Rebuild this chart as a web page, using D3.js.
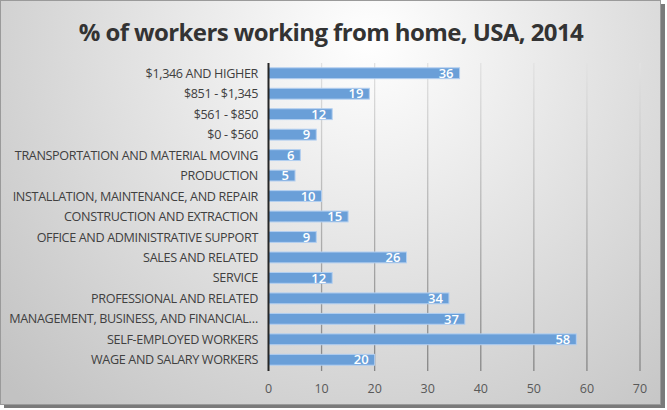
<!DOCTYPE html>
<html lang="en">
<head>
<meta charset="UTF-8">
<title>Workers from home</title>
<script src="https://cdn.jsdelivr.net/npm/d3@7"></script>
<style>
  body { margin: 0; background: #fff; }
  text { font-family: "Open Sans", "Noto Sans", sans-serif; }
</style>
</head>
<body>
<svg></svg>
<script>
    const width = 667, height = 410;

    // categories top to bottom, with values
    const categories = [
        '$1,346 AND HIGHER',
        '$851 - $1,345',
        '$561 - $850',
        '$0 - $560',
        'TRANSPORTATION AND MATERIAL MOVING',
        'PRODUCTION',
        'INSTALLATION, MAINTENANCE, AND REPAIR',
        'CONSTRUCTION AND EXTRACTION',
        'OFFICE AND ADMINISTRATIVE SUPPORT',
        'SALES AND RELATED',
        'SERVICE',
        'PROFESSIONAL AND RELATED',
        'MANAGEMENT, BUSINESS, AND FINANCIAL…',
        'SELF-EMPLOYED WORKERS',
        'WAGE AND SALARY WORKERS'
    ];
    const values = [36, 19, 12, 9, 6, 5, 10, 15, 9, 26, 12, 34, 37, 58, 20];
    const xTicks = [0, 10, 20, 30, 40, 50, 60, 70];
    const title = '% of workers working from home, USA, 2014';

    const svg = d3.select('svg')
        .attr('width', width)
        .attr('height', height);

    const defs = svg.append('defs');

    // chart area background: light centre near the title, grey edges
    const bg = defs.append('radialGradient')
        .attr('id', 'bg')
        .attr('gradientUnits', 'userSpaceOnUse')
        .attr('cx', 370).attr('cy', 40).attr('r', 500);
    bg.append('stop').attr('offset', '0%').attr('stop-color', '#ffffff');
    bg.append('stop').attr('offset', '100%').attr('stop-color', '#c2c2c2');

    const grid = defs.append('linearGradient')
        .attr('id', 'grid')
        .attr('gradientUnits', 'userSpaceOnUse')
        .attr('x1', 0).attr('y1', 63).attr('x2', 0).attr('y2', 371);
    grid.append('stop').attr('offset', '0%').attr('stop-color', '#e2e2e2');
    grid.append('stop').attr('offset', '100%').attr('stop-color', '#858585');

    // drop shadow + frame
    svg.append('rect')
        .attr('x', 4).attr('y', 4)
        .attr('width', 661).attr('height', 404)
        .attr('fill', '#7a7a7a');
    svg.append('rect')
        .attr('x', 0.5).attr('y', 0.5)
        .attr('width', 660).attr('height', 404)
        .attr('fill', 'url(#bg)')
        .attr('stroke', '#9a9a9a');

    const x = d3.scaleLinear()
        .domain([0, 70])
        .range([268.5, 640]);

    const y = d3.scaleBand()
        .domain(categories)
        .range([63, 370])
        .paddingInner(0.47)
        .paddingOuter(0.235);

    // vertical gridlines
    svg.append('g')
        .selectAll('line')
        .data(xTicks.slice(1))
        .join('line')
        .attr('x1', d => x(d)).attr('x2', d => x(d))
        .attr('y1', 63).attr('y2', 371)
        .attr('stroke', 'url(#grid)')
        .attr('stroke-width', 1.3);

    // bars
    svg.append('g')
        .selectAll('rect')
        .data(values)
        .join('rect')
        .attr('x', x(0))
        .attr('y', (d, i) => y(categories[i]))
        .attr('width', d => x(d) - x(0))
        .attr('height', y.bandwidth())
        .attr('fill', '#6a9fd8')
        .attr('stroke', '#b3cff0')
        .attr('stroke-width', 1);

    // value labels inside bar ends
    svg.append('g')
        .selectAll('text')
        .data(values)
        .join('text')
        .attr('x', d => x(d) - 6)
        .attr('y', (d, i) => y(categories[i]) + y.bandwidth() / 2)
        .attr('dy', '0.36em')
        .attr('text-anchor', 'end')
        .attr('fill', '#ffffff')
        .attr('font-size', 13)
        .attr('font-weight', 600)
        .text(d => d);

    // category labels
    svg.append('g')
        .selectAll('text')
        .data(categories)
        .join('text')
        .attr('x', 258)
        .attr('y', d => y(d) + y.bandwidth() / 2)
        .attr('dy', '0.36em')
        .attr('text-anchor', 'end')
        .attr('fill', '#404040')
        .attr('font-size', 12.6)
        .attr('letter-spacing', -0.35)
        .text(d => d);

    // x tick labels
    svg.append('g')
        .selectAll('text')
        .data(xTicks)
        .join('text')
        .attr('x', d => x(d))
        .attr('y', 388)
        .attr('dy', '0.36em')
        .attr('text-anchor', 'middle')
        .attr('fill', '#595959')
        .attr('font-size', 12.5)
        .text(d => d);

    // category axis line
    svg.append('line')
        .attr('x1', x(0)).attr('x2', x(0))
        .attr('y1', 63).attr('y2', 371)
        .attr('stroke', '#262626')
        .attr('stroke-width', 2);

    svg.append('text')
        .attr('x', 331)
        .attr('y', 32)
        .attr('dy', '0.36em')
        .attr('text-anchor', 'middle')
        .attr('fill', '#333333')
        .attr('font-size', 24)
        .attr('font-weight', 'bold')
        .attr('letter-spacing', -0.6)
        .text(title);
</script>
</body>
</html>
